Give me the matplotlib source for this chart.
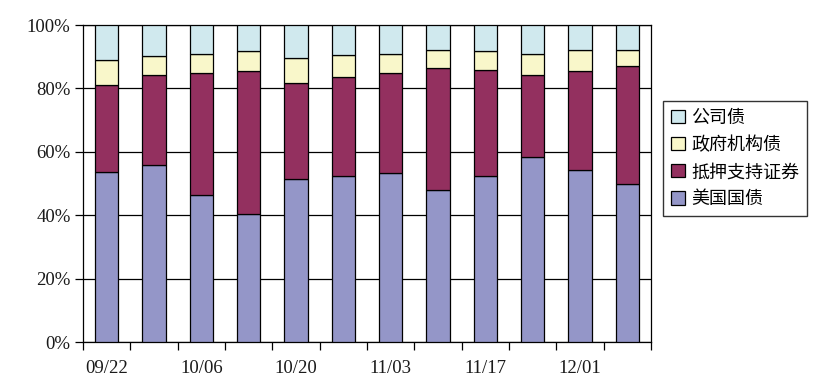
import matplotlib
matplotlib.use("Agg")
import matplotlib.pyplot as plt
import numpy as np
from matplotlib.ticker import FixedLocator, PercentFormatter

dates = ["09/22", "09/29", "10/06", "10/13", "10/20", "10/27",
         "11/03", "11/10", "11/17", "11/24", "12/01", "12/08"]
treasury = [53.6, 55.8, 46.4, 40.4, 51.4, 52.3, 53.2, 47.9, 52.4, 58.4, 54.4, 49.9]
mbs      = [27.5, 28.4, 38.5, 45.1, 30.3, 31.3, 31.7, 38.4, 33.4, 25.8, 31.1, 37.2]
agency   = [7.9, 6.0, 6.0, 6.3, 7.9, 6.8, 6.0, 5.8, 5.9, 6.8, 6.6, 5.0]
corp     = [100 - t - m - a for t, m, a in zip(treasury, mbs, agency)]

series = [
    ("美国国债", treasury, "#9496C8"),
    ("抵押支持证券", mbs, "#93305F"),
    ("政府机构债", agency, "#F9F7CA"),
    ("公司债", corp, "#D0E9EE"),
]

fig = plt.figure(figsize=(8.23, 3.89), dpi=100)
ax = fig.add_axes([0.1009, 0.1208, 0.791 - 0.1009, 0.9357 - 0.1208])

x = np.arange(len(dates))
bottom = np.zeros(len(dates))
handles = []
for name, vals, color in series:
    b = ax.bar(x, vals, width=0.49, bottom=bottom, color=color,
               edgecolor="black", linewidth=0.9, label=name, zorder=3)
    handles.append(b)
    bottom += np.array(vals)

ax.set_xlim(-0.5, len(dates) - 0.5)
ax.set_ylim(0, 100)
ax.set_yticks(np.arange(0, 101, 20))
ax.yaxis.set_major_formatter(PercentFormatter(decimals=0))
ax.yaxis.grid(True, color="black", linewidth=0.9, zorder=0)
ax.set_axisbelow(True)

ax.set_xticks(x[::2])
ax.set_xticklabels(dates[::2])
ax.xaxis.set_minor_locator(FixedLocator(np.arange(-0.5, len(dates), 1.0)))
ax.tick_params(axis="x", which="major", length=0, pad=13)
ax.tick_params(axis="x", which="minor", length=6, width=0.9, direction="out")
ax.tick_params(axis="y", length=6, width=0.9, direction="out", pad=3)

serif = ["Liberation Serif", "DejaVu Serif"]
for lbl in ax.get_xticklabels() + ax.get_yticklabels():
    lbl.set_fontfamily(serif)
    lbl.set_fontsize(13.5)
    lbl.set_color("#1a1a1a")

for s in ax.spines.values():
    s.set_linewidth(0.9)
    s.set_color("black")

leg = fig.legend(handles[::-1], [s[0] for s in series][::-1],
                 loc="upper left", bbox_to_anchor=(663 / 823, 1 - 101 / 389),
                 prop={"family": ["Noto Sans CJK SC", "DejaVu Sans"], "size": 13},
                 frameon=True, fancybox=False, edgecolor="black",
                 handlelength=0.75, handleheight=0.75, handletextpad=0.35,
                 labelspacing=0.5, borderpad=0.45, borderaxespad=0)
leg.get_frame().set_linewidth(1.0)

fig.savefig("out.png", dpi=100)
